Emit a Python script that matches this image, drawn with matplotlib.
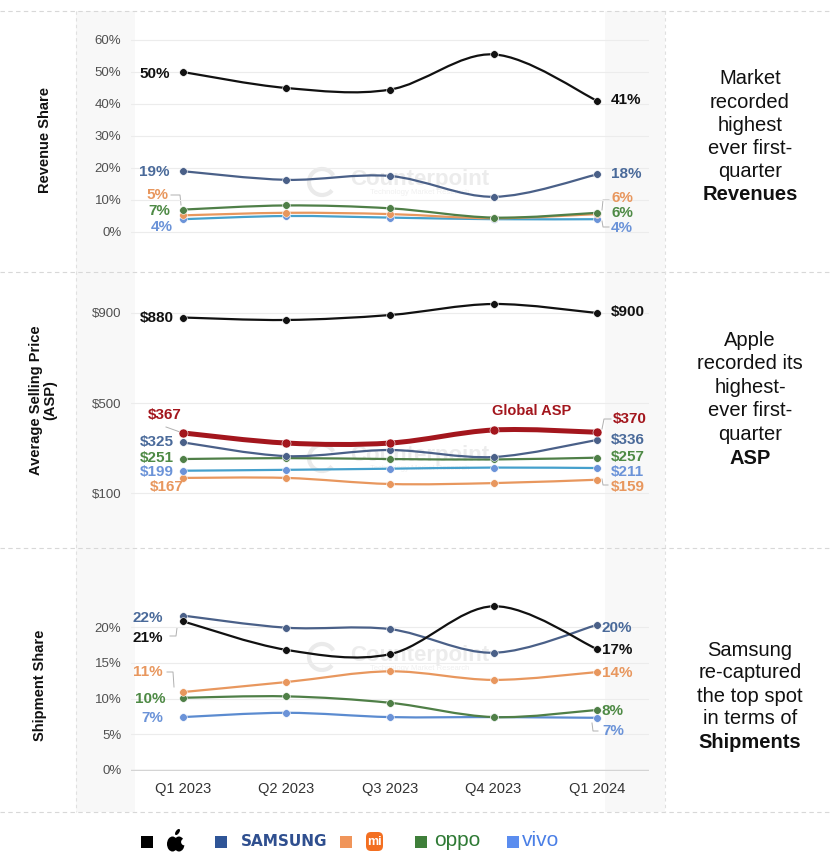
import matplotlib
matplotlib.use("Agg")
import matplotlib.pyplot as plt
from matplotlib.path import Path
from matplotlib.patches import PathPatch, Rectangle, FancyBboxPatch, Circle, Ellipse, Arc
import numpy as np

plt.rcParams['font.family'] = ['Liberation Sans', 'DejaVu Sans']

# ---------------- data ----------------
quarters = ["Q1 2023", "Q2 2023", "Q3 2023", "Q4 2023", "Q1 2024"]

rev_apple   = [50, 45, 44.5, 55.5, 41]
rev_samsung = [19, 16.3, 17.5, 11, 18]
rev_xiaomi  = [5.2, 6, 5.6, 4.3, 5.6]
rev_oppo    = [7, 8.3, 7.4, 4.5, 6]
rev_vivo    = [4, 5, 4.5, 4, 4]

asp_apple   = [880, 869, 891, 940, 900]
asp_global  = [367, 322, 322, 380, 370]
asp_samsung = [325, 264, 291, 260, 336]
asp_oppo    = [251, 255, 251, 249, 257]
asp_vivo    = [199, 203, 208, 213, 211]
asp_xiaomi  = [167, 167, 140, 144, 159]

shp_samsung = [21.6, 19.9, 19.7, 16.4, 20.3]
shp_apple   = [20.8, 16.8, 16.2, 22.9, 16.9]
shp_xiaomi  = [10.9, 12.3, 13.8, 12.6, 13.7]
shp_oppo    = [10.1, 10.3, 9.4, 7.4, 8.4]
shp_vivo    = [7.4, 8.0, 7.4, 7.4, 7.3]

rev_ticks = [0, 10, 20, 30, 40, 50, 60]
asp_ticks = [100, 500, 900]
shp_ticks = [0, 5, 10, 15, 20]

legend_names = ["Apple", "SAMSUNG", "mi", "oppo", "vivo"]

# ---------------- styles ----------------
C_APPLE = "#111111"
C_SAM = "#4a6088"
C_SAM_LBL = "#4a6a9a"
C_XIA = "#e8975e"
C_OPPO = "#4f7f47"
C_OPPO_LBL = "#4e8a45"
C_VIVO_LINE = "#45a0cc"
C_VIVO = "#6b93d8"
C_RED = "#a3161d"
LBL_SIZE = 11

W, H = 832, 852
fig = plt.figure(figsize=(W / 100, H / 100), dpi=100)
fig.patch.set_facecolor("white")

# background axes in pixel coordinates
bg = fig.add_axes([0, 0, 1, 1], zorder=-5)
bg.set_xlim(0, W)
bg.set_ylim(H, 0)
bg.axis("off")
for x0, x1 in [(76, 135), (605, 665)]:
    bg.add_patch(Rectangle((x0, 11), x1 - x0, 801, color="#f8f8f8", lw=0))
for y in [11, 272, 548, 812]:
    bg.plot([0, W], [y, y], ls=(0, (4, 3)), color="#d8d8d8", lw=0.8)
for x in [76, 665]:
    bg.plot([x, x], [11, 812], ls=(0, (3, 3)), color="#e0e0e0", lw=0.8)


def make_ax(top, bottom, va, pa, vb, pb):
    ax = fig.add_axes([131 / W, 1 - bottom / H, (649 - 131) / W, (bottom - top) / H])
    ax.patch.set_alpha(0)
    k = (vb - va) / (pb - pa)
    ax.set_ylim(va + (bottom - pa) * k, va + (top - pa) * k)
    ax.set_xlim(-0.5, 4.5)
    for s in ax.spines.values():
        s.set_visible(False)
    ax.tick_params(length=0, labelsize=9.5, labelcolor="#505050", pad=7)
    ax.set_xticks([])
    return ax


def smooth(ax, ys, color, lw=1.6, z=3):
    xs = np.arange(len(ys), dtype=float)
    ys = np.asarray(ys, dtype=float)
    n = len(ys)
    verts = [(xs[0], ys[0])]
    codes = [Path.MOVETO]
    for i in range(n - 1):
        p0 = np.array([xs[max(i - 1, 0)], ys[max(i - 1, 0)]])
        p1 = np.array([xs[i], ys[i]])
        p2 = np.array([xs[i + 1], ys[i + 1]])
        p3 = np.array([xs[min(i + 2, n - 1)], ys[min(i + 2, n - 1)]])
        c1 = p1 + (p2 - p0) / 6.0
        c2 = p2 - (p3 - p1) / 6.0
        verts += [tuple(c1), tuple(c2), tuple(p2)]
        codes += [Path.CURVE4] * 3
    ax.add_patch(PathPatch(Path(verts, codes), fill=False, edgecolor=color, lw=lw,
                           zorder=z, capstyle="round", joinstyle="round"))


def series(ax, ys, lcolor, mcolor=None, lw=1.6, ms=5.5, z=3):
    smooth(ax, ys, lcolor, lw=lw, z=z)
    ax.plot(range(len(ys)), ys, "o", ls="none", color=mcolor or lcolor, ms=ms, zorder=z + 0.5,
            mec="white", mew=0.4)


def lbl(x, y, s, color, ha="right", size=LBL_SIZE):
    fig.text(x / W, 1 - y / H, s, color=color, ha=ha, va="center", fontsize=size,
             fontweight="bold")


def watermark(yc):
    bg.text(420, yc, "Counterpoint", color="#ececec", fontsize=16,
            fontweight="bold", ha="center", va="center")
    bg.text(420, yc + 13, "Technology Market Research", color="#f0f0f0",
            fontsize=5.5, ha="center", va="center")
    bg.add_patch(Arc((322, yc + 2), 26, 26, theta1=40, theta2=330, color="#eaeaea", lw=3))


def conn(pts, color="#b0b0b0"):
    bg.plot([p[0] for p in pts], [p[1] for p in pts], color=color, lw=0.7, zorder=10)


# ---------------- Revenue panel ----------------
ax1 = make_ax(28, 250, 0, 232, 60, 40)
ax1.set_yticks(rev_ticks)
ax1.set_yticklabels([f"{t}%" for t in rev_ticks])
ax1.grid(axis="y", color="#ececec", lw=0.8)
watermark(180)
series(ax1, rev_vivo, C_VIVO_LINE, C_VIVO)
series(ax1, rev_xiaomi, C_XIA)
series(ax1, rev_oppo, C_OPPO)
series(ax1, rev_samsung, C_SAM)
series(ax1, rev_apple, C_APPLE, z=5)

lbl(170, 74, f"{rev_apple[0]:.0f}%", C_APPLE)
lbl(170, 172, f"{rev_samsung[0]:.0f}%", C_SAM_LBL)
lbl(168, 195, f"{rev_xiaomi[0]:.0f}%", C_XIA)
lbl(170, 211, f"{rev_oppo[0]:.0f}%", C_OPPO_LBL)
lbl(173, 227, f"{rev_vivo[0]:.0f}%", C_VIVO)
lbl(611, 100, f"{rev_apple[-1]:.0f}%", C_APPLE, ha="left")
lbl(611, 174, f"{rev_samsung[-1]:.0f}%", C_SAM_LBL, ha="left")
lbl(611, 198, f"{rev_xiaomi[-1]:.0f}%", C_XIA, ha="left")
lbl(611, 213, f"{rev_oppo[-1]:.0f}%", C_OPPO_LBL, ha="left")
lbl(611, 228, f"{rev_vivo[-1]:.0f}%", C_VIVO, ha="left")
conn([(171, 195), (180, 195), (181, 205)])
conn([(609, 200), (603, 200), (602, 210)])
conn([(609, 227), (603, 227), (602, 221)])

# ---------------- ASP panel ----------------
ax2 = make_ax(290, 520, 100, 493, 900, 313)
ax2.set_yticks(asp_ticks)
ax2.set_yticklabels([f"${t}" for t in asp_ticks])
ax2.grid(axis="y", color="#ececec", lw=0.8)
watermark(456)
series(ax2, asp_xiaomi, C_XIA)
series(ax2, asp_vivo, C_VIVO_LINE, C_VIVO)
series(ax2, asp_oppo, C_OPPO)
series(ax2, asp_samsung, C_SAM)
series(ax2, asp_global, C_RED, lw=3.6, ms=6.5, z=4)
series(ax2, asp_apple, C_APPLE, z=5)

lbl(174, 318, f"${asp_apple[0]}", C_APPLE)
lbl(182, 415, f"${asp_global[0]}", C_RED)
lbl(174, 442, f"${asp_samsung[0]}", C_SAM_LBL)
lbl(174, 458, f"${asp_oppo[0]}", C_OPPO_LBL)
lbl(174, 472, f"${asp_vivo[0]}", C_VIVO)
lbl(184, 487, f"${asp_xiaomi[0]}", C_XIA)
lbl(611, 312, f"${asp_apple[-1]}", C_APPLE, ha="left")
lbl(613, 419, f"${asp_global[-1]}", C_RED, ha="left")
lbl(611, 440, f"${asp_samsung[-1]}", C_SAM_LBL, ha="left")
lbl(611, 457, f"${asp_oppo[-1]}", C_OPPO_LBL, ha="left")
lbl(611, 472, f"${asp_vivo[-1]}", C_VIVO, ha="left")
lbl(611, 487, f"${asp_xiaomi[-1]}", C_XIA, ha="left")
fig.text(532 / W, 1 - 411 / H, "Global ASP", color=C_RED, fontsize=10.5, fontweight="bold",
         ha="center", va="center")
conn([(166, 427), (180, 432)])
conn([(611, 419), (604, 419), (602, 429)])
conn([(608, 485), (603, 485), (602, 479)])

# ---------------- Shipment panel ----------------
ax3 = make_ax(590, 771, 0, 770, 20, 627)
ax3.set_yticks(shp_ticks)
ax3.set_yticklabels([f"{t}%" for t in shp_ticks])
ax3.grid(axis="y", color="#ececec", lw=0.8)
ax3.axhline(0, color="#d4d4d4", lw=1.0)
ax3.set_xticks(range(len(quarters)))
ax3.set_xticklabels(quarters)
ax3.tick_params(axis="x", labelsize=10.5, labelcolor="#333333", pad=8)
watermark(655)
series(ax3, shp_vivo, "#5b8bd0", C_VIVO)
series(ax3, shp_oppo, C_OPPO)
series(ax3, shp_xiaomi, C_XIA)
series(ax3, shp_samsung, C_SAM)
series(ax3, shp_apple, C_APPLE, z=5)

lbl(163, 618, f"{shp_samsung[0]:.0f}%", C_SAM_LBL)
lbl(163, 638, f"{shp_apple[0]:.0f}%", C_APPLE)
lbl(163, 672, f"{shp_xiaomi[0]:.0f}%", C_XIA)
lbl(165, 699, f"{shp_oppo[0]:.0f}%", C_OPPO_LBL)
lbl(163, 718, f"{shp_vivo[0]:.0f}%", C_VIVO)
lbl(602, 628, f"{shp_samsung[-1]:.0f}%", C_SAM_LBL, ha="left")
lbl(602, 650, f"{shp_apple[-1]:.0f}%", C_APPLE, ha="left")
lbl(602, 673, f"{shp_xiaomi[-1]:.0f}%", C_XIA, ha="left")
lbl(602, 711, f"{shp_oppo[-1]:.0f}%", C_OPPO_LBL, ha="left")
lbl(602, 731, f"{shp_vivo[-1]:.0f}%", C_VIVO, ha="left")
conn([(170, 636), (176, 636), (177, 628)])
conn([(167, 672), (173, 672), (174, 687)])
conn([(598, 731), (593, 731), (592, 723)])

# ---------------- axis titles ----------------
fig.text(45 / W, 1 - 140 / H, "Revenue Share", rotation=90, ha="center", va="center",
         fontsize=10.5, fontweight="bold", color="#111111")
fig.text(43 / W, 1 - 400 / H, "Average Selling Price\n(ASP)", rotation=90, ha="center",
         va="center", fontsize=10.5, fontweight="bold", color="#111111", linespacing=1.05)
fig.text(40 / W, 1 - 685 / H, "Shipment Share", rotation=90, ha="center", va="center",
         fontsize=10.5, fontweight="bold", color="#111111")


# ---------------- right-side notes ----------------
def note(lines, y0, step):
    for i, s in enumerate(lines):
        last = i == len(lines) - 1
        fig.text(750 / W, 1 - (y0 + i * step) / H, s, ha="center", va="center", fontsize=14.5,
                 fontweight="bold" if last else "normal", color="#111111")


note(["Market", "recorded", "highest", "ever first-", "quarter", "Revenues"], 79, 23.2)
note(["Apple", "recorded its", "highest-", "ever first-", "quarter", "ASP"], 340, 23.6)
note(["Samsung", "re-captured", "the top spot", "in terms of", "Shipments"], 650, 23.0)

# ---------------- legend ----------------
ly = 841
sq = 12
for x, c in [(141, "#000000"), (215, "#2f5597"), (340, "#f0955a"), (415, "#3f7f3a"), (507, "#5b8def")]:
    bg.add_patch(Rectangle((x, ly - sq / 2 + 1), sq, sq, color=c, lw=0))
# apple logo approximation
bg.add_patch(Ellipse((172.5, ly + 3), 11, 15, color="black", lw=0))
bg.add_patch(Ellipse((179, ly + 3), 11, 15, color="black", lw=0))
bg.add_patch(Circle((184.5, ly + 1), 3.4, color="white", lw=0))
bg.add_patch(Ellipse((177.5, ly - 9), 3.5, 7, angle=35, color="black", lw=0))
bg.text(241, ly + 1, legend_names[1], color="#2f4f8f",
        fontsize=11, fontweight="bold", ha="left", va="center", family=["DejaVu Sans"])
bg.add_patch(FancyBboxPatch((366, ly - 9), 17, 19, boxstyle="round,pad=0,rounding_size=5",
                            color="#f36f21", lw=0))
bg.text(374.5, ly + 1, legend_names[2], color="white", fontsize=9, fontweight="bold",
        ha="center", va="center")
bg.text(434, ly, legend_names[3], color="#2f7a35", fontsize=15, ha="left", va="center")
bg.text(522, ly, legend_names[4], color="#4a7fe6", fontsize=15, ha="left", va="center")

fig.savefig("out.png", dpi=100, facecolor="white")
